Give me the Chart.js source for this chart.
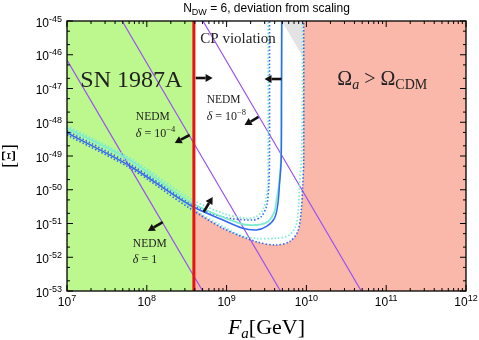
<!DOCTYPE html>
<html>
<head>
<meta charset="utf-8">
<script src="https://cdn.jsdelivr.net/npm/chart.js@4.4.1/dist/chart.umd.min.js"></script>
<style>
  html, body { margin: 0; padding: 0; background: #fff; }
  canvas { display: block; }
</style>
</head>
<body>
<canvas id="chart" width="479" height="340"></canvas>
<script>
// all values are log10 exponents (Fa in GeV, Xi dimensionless)
const xTickExps = [7, 8, 9, 10, 11, 12];
const yTickExps = [-45, -46, -47, -48, -49, -50, -51, -52, -53];

const snBoundLogFa = 8.59;          // red SN 1987A line
const cdmBoundLogFa = 9.96;         // Omega_a > Omega_CDM edge

// contour curves
const blueSolidLogFa = [7, 7.7875, 8.5375, 8.954, 9.204, 9.371, 9.496, 9.60, 9.641, 9.6625, 9.684, 9.6875, 9.691];
const blueSolidLogXi = [-48.318, -49.296, -50.452, -50.896, -51.142, -51.193, -51.095, -50.846, -50.452, -49.859, -49.119, -47.341, -45];
const cyanSolidLogFa = [7, 7.7875, 8.5375, 9.1625, 9.371, 9.516, 9.60, 9.629, 9.656, 9.681, 9.6875, 9.691];
const cyanSolidLogXi = [-48.170, -49.119, -50.354, -50.994, -51.044, -50.947, -50.650, -50.253, -49.859, -49.119, -47.341, -45];
const cyanDotInLogFa = [7, 7.7875, 8.5375, 8.954, 9.246, 9.371, 9.454, 9.496, 9.516, 9.521, 9.521];
const cyanDotInLogXi = [-48.111, -49.059, -50.253, -50.698, -50.846, -50.799, -50.600, -50.253, -49.859, -49.119, -45];
const blueDotInLogFa = [7, 7.7875, 8.5375, 8.954, 9.329, 9.434, 9.504, 9.529, 9.5375, 9.5375];
const blueDotInLogXi = [-48.259, -49.237, -50.393, -50.807, -50.896, -50.799, -50.452, -49.859, -49.119, -45];
const cyanDotOutLogFa = [7, 7.7875, 8.5375, 9.1625, 9.371, 9.621, 9.7875, 9.871, 9.904, 9.9125, 9.9375, 9.95, 9.95];
const cyanDotOutLogXi = [-48.230, -49.178, -50.502, -51.341, -51.439, -51.439, -51.341, -51.044, -50.452, -49.859, -49.119, -47.341, -45];
const blueDotOutLogFa = [7, 7.7875, 8.5375, 8.954, 9.371, 9.621, 9.7875, 9.891, 9.934, 9.954, 9.966, 9.966];
const blueDotOutLogXi = [-48.378, -49.356, -50.550, -51.142, -51.539, -51.637, -51.539, -51.243, -50.650, -49.859, -49.119, -45];

// lower edge of the excluded (pink) region right of the SN line
const pinkEdgeLogFa = [8.59, 8.954, 9.371, 9.621, 9.7875, 9.891, 9.934, 9.954, 9.969, 9.975];
const pinkEdgeLogXi = [-50.57, -51.142, -51.539, -51.637, -51.539, -51.243, -50.650, -49.859, -49.119, -45];

// grey corner at the top
const greyLogFa = [9.691, 9.954];
const greyLogXi = [-45, -46.05];

// NEDM lines
const nedm0LogFa = [7, 8.7];
const nedm0LogXi = [-46.16, -53];
const nedm4LogFa = [7.691, 9.675];
const nedm4LogXi = [-45, -53];
const nedm8LogFa = [8.704, 10.6875];
const nedm8LogXi = [-45, -53];

// arrows, tail -> head, in log coordinates
const arrowTailLogFa = [8.6125, 9.6875, 8.5375, 9.4, 8.2, 8.7125];
const arrowTailLogXi = [-46.689, -46.719, -48.378, -47.844, -50.956, -50.659];
const arrowHeadLogFa = [8.825, 9.475, 8.35, 9.225, 8.0125, 8.825];
const arrowHeadLogXi = [-46.689, -46.719, -48.615, -48.081, -51.222, -50.215];

function pts(lf, lx) {
    return lf.map((v, i) => ({ x: 10 ** v, y: 10 ** lx[i] }));
}

function lineSet(lf, lx, color, width, dash, order) {
    return {
        data: pts(lf, lx), borderColor: color, borderWidth: width, borderDash: dash || [],
        pointRadius: 0, fill: false, tension: 0.3, order: order
    };
}

const SANS = "'Liberation Sans', Arial, sans-serif";
const SERIF = "'Liberation Serif', 'Times New Roman', serif";

function rich(ctx, parts, x, y, align) {
    let w = 0;
    parts.forEach(p => { ctx.font = p[1]; w += ctx.measureText(p[0]).width; });
    let cx = align === "center" ? x - w / 2 : align === "right" ? x - w : x;
    ctx.textAlign = "left";
    parts.forEach(p => {
        ctx.font = p[1];
        ctx.fillText(p[0], cx, y - (p[2] || 0));
        cx += ctx.measureText(p[0]).width;
    });
}

function arrow(ctx, x0, y0, x1, y1) {
    const a = Math.atan2(y1 - y0, x1 - x0), L = 7, W = 4;
    const bx = x1 - L * Math.cos(a), by = y1 - L * Math.sin(a);
    ctx.lineWidth = 2.6;
    ctx.beginPath(); ctx.moveTo(x0, y0); ctx.lineTo(bx, by); ctx.stroke();
    ctx.beginPath(); ctx.moveTo(x1, y1);
    ctx.lineTo(bx + W * Math.sin(a), by - W * Math.cos(a));
    ctx.lineTo(bx - W * Math.sin(a), by + W * Math.cos(a));
    ctx.closePath(); ctx.fill();
}

const decor = {
    id: "decor",
    afterDraw(chart) {
        const { ctx, chartArea: a } = chart;
        const px = v => chart.scales.x.getPixelForValue(10 ** v);
        const py = v => chart.scales.y.getPixelForValue(10 ** v);
        ctx.save();
        ctx.fillStyle = "#111";
        ctx.strokeStyle = "#111";
        ctx.textBaseline = "alphabetic";

        for (let i = 0; i < arrowTailLogFa.length; i++) {
            arrow(ctx, px(arrowTailLogFa[i]), py(arrowTailLogXi[i]), px(arrowHeadLogFa[i]), py(arrowHeadLogXi[i]));
        }

        // region labels
        ctx.fillStyle = "#222";
        rich(ctx, [["SN 1987A", "24px " + SERIF]], px(7.806), py(-46.956), "center");
        rich(ctx, [["CP violation", "15px " + SERIF]], px(8.671), py(-45.652), "left");
        rich(ctx, [["\u03A9", "20px " + SERIF], ["a", "italic 14px " + SERIF, -4], [" > \u03A9", "20px " + SERIF], ["CDM", "14px " + SERIF, -4]],
            px(10.3875), py(-46.896), "left");

        const nedm = [[7.8625, -47.933, -48.437, "10", "\u22124"], [8.75, -47.430, -47.933, "10", "\u22128"], [7.825, -51.696, -52.170, "1", ""]];
        nedm.forEach(n => {
            rich(ctx, [["NEDM", "11.5px " + SERIF]], px(n[0]), py(n[1]), "left");
            const parts = [["\u03B4", "italic 12px " + SERIF], [" = " + n[3], "12px " + SERIF]];
            if (n[4]) parts.push([n[4], "8.5px " + SERIF, 5]);
            rich(ctx, parts, px(n[0]), py(n[2]), "left");
        });

        // frame
        ctx.strokeStyle = "#000";
        ctx.fillStyle = "#000";
        ctx.lineWidth = 1.3;
        ctx.strokeRect(a.left, a.top, a.right - a.left, a.bottom - a.top);

        // inward ticks on all sides
        ctx.lineWidth = 1;
        ctx.beginPath();
        xTickExps.forEach((e, i) => {
            const x = px(e);
            ctx.moveTo(x, a.bottom); ctx.lineTo(x, a.bottom - 6);
            ctx.moveTo(x, a.top); ctx.lineTo(x, a.top + 6);
            if (i < xTickExps.length - 1) {
                for (let m = 2; m <= 9; m++) {
                    const xm = px(e + Math.log10(m));
                    ctx.moveTo(xm, a.bottom); ctx.lineTo(xm, a.bottom - 3);
                    ctx.moveTo(xm, a.top); ctx.lineTo(xm, a.top + 3);
                }
            }
        });
        yTickExps.forEach((e, i) => {
            const y = py(e);
            ctx.moveTo(a.left, y); ctx.lineTo(a.left + 6, y);
            ctx.moveTo(a.right, y); ctx.lineTo(a.right - 6, y);
            if (i > 0) {
                [2, 5].forEach(m => {
                    const ym = py(e + Math.log10(m));
                    ctx.moveTo(a.left, ym); ctx.lineTo(a.left + 3, ym);
                    ctx.moveTo(a.right, ym); ctx.lineTo(a.right - 3, ym);
                });
            }
        });
        ctx.stroke();

        // tick labels
        xTickExps.forEach(e => {
            rich(ctx, [["10", "12px " + SANS], [String(e), "9px " + SANS, 5]], px(e), a.bottom + 15, "center");
        });
        yTickExps.forEach(e => {
            rich(ctx, [["10", "12px " + SANS], [String(e), "9px " + SANS, 5]], a.left - 5, py(e) + 5.5, "right");
        });

        // title and axis titles
        rich(ctx, [["N", "12px " + SANS], ["DW", "9px " + SANS, -3], [" = 6, deviation from scaling", "12px " + SANS]],
            (a.left + a.right) / 2, 12, "center");
        rich(ctx, [["F", "italic 22px " + SERIF], ["a", "italic 15px " + SERIF, -4], ["[GeV]", "22px " + SERIF]],
            (a.left + a.right) / 2, 334, "center");
        ctx.translate(15, (a.top + a.bottom) / 2);
        ctx.rotate(-Math.PI / 2);
        rich(ctx, [["[\u039E]", "18px " + SERIF]], 0, 0, "center");
        ctx.restore();
    }
};

const blue = "#3368f0";
const cyan = "#7deccf";
const purple = "#9a52f2";

new Chart(document.getElementById("chart"), {
    type: "line",
    data: {
        datasets: [
            { data: pts(pinkEdgeLogFa, pinkEdgeLogXi), borderWidth: 0, pointRadius: 0, tension: 0.3,
              fill: "start", backgroundColor: "#fab8aa", order: 21 },
            { data: pts([cdmBoundLogFa, 12], [-45, -45]), borderWidth: 0, pointRadius: 0,
              fill: "start", backgroundColor: "#fab8aa", order: 20 },
            { data: pts([7, snBoundLogFa], [-45, -45]), borderWidth: 0, pointRadius: 0,
              fill: "start", backgroundColor: "#bdf88e", order: 19 },
            { data: pts(greyLogFa, greyLogXi), borderWidth: 0, pointRadius: 0,
              fill: "end", backgroundColor: "#e3e3e3", order: 18 },
            lineSet(nedm0LogFa, nedm0LogXi, purple, 1.2, null, 10),
            lineSet(nedm4LogFa, nedm4LogXi, purple, 1.2, null, 10),
            lineSet(nedm8LogFa, nedm8LogXi, purple, 1.2, null, 10),
            lineSet(cyanDotOutLogFa, cyanDotOutLogXi, cyan, 1.8, [1.5, 2], 8),
            lineSet(blueDotOutLogFa, blueDotOutLogXi, blue, 1.6, [1.5, 2], 7),
            lineSet(cyanDotInLogFa, cyanDotInLogXi, cyan, 1.8, [1.5, 2], 6),
            lineSet(blueDotInLogFa, blueDotInLogXi, blue, 1.6, [1.5, 2], 5),
            lineSet(cyanSolidLogFa, cyanSolidLogXi, cyan, 1.8, null, 4),
            lineSet(blueSolidLogFa, blueSolidLogXi, blue, 1.5, null, 3),
            lineSet([snBoundLogFa, snBoundLogFa], [-53, -45], "#ee1111", 3, null, 1)
        ]
    },
    options: {
        responsive: false,
        animation: false,
        layout: { padding: { left: 67, right: 13, top: 21, bottom: 49 } },
        scales: {
            x: { type: "logarithmic", min: 1e7, max: 1e12, display: false },
            y: { type: "logarithmic", min: 1e-53, max: 1e-45, display: false }
        },
        plugins: { legend: { display: false }, tooltip: { enabled: false } }
    },
    plugins: [decor]
});
</script>
</body>
</html>
